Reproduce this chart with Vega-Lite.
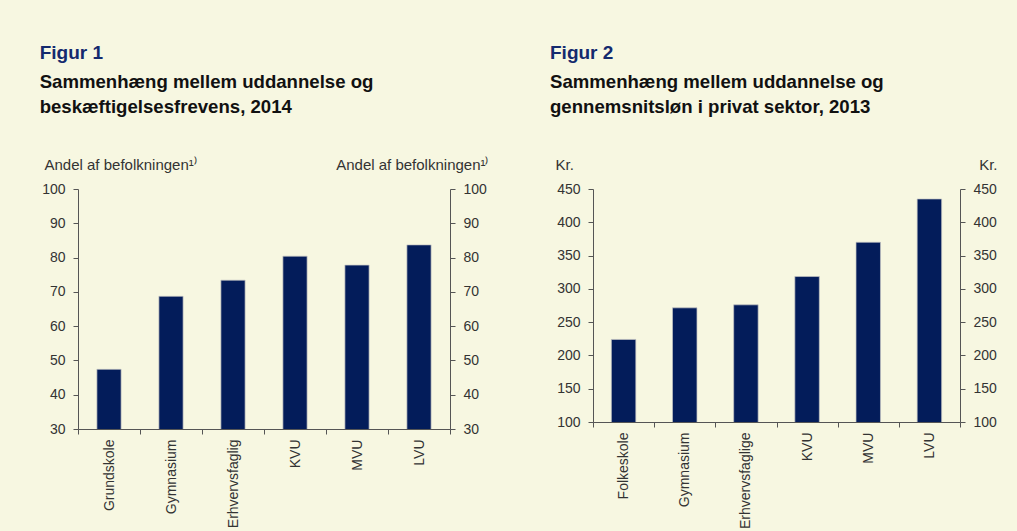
{
  "$schema": "https://vega.github.io/schema/vega-lite/v6.json",
  "background": "#F7F7E1",
  "padding": {"left": 39, "top": 44, "right": 24, "bottom": 4},
  "spacing": 62,
  "config": {
    "font": "Liberation Sans",
    "view": {"stroke": null},
    "axis": {
      "domainColor": "#555555",
      "tickColor": "#555555",
      "labelColor": "#333333",
      "titleColor": "#333333",
      "labelFont": "Liberation Sans",
      "titleFont": "Liberation Sans",
      "labelFontSize": 14,
      "titleFontSize": 15,
      "titleFontWeight": "normal",
      "grid": false,
      "tickSize": 5,
      "domainWidth": 1,
      "tickWidth": 1,
      "labelLimit": 300
    },
    "title": {"font": "Liberation Sans", "subtitleFont": "Liberation Sans"}
  },
  "hconcat": [
    {
      "width": 372,
      "height": 240,
      "title": {
        "text": "Figur 1",
        "subtitle": ["Sammenhæng mellem uddannelse og", "beskæftigelsesfrevens, 2014"],
        "anchor": "start",
        "frame": "bounds",
        "dx": -2,
        "color": "#142A6E",
        "fontSize": 19,
        "fontWeight": "bold",
        "subtitleColor": "#111111",
        "subtitleFontSize": 18.6,
        "subtitleFontWeight": "bold",
        "subtitleLineHeight": 25,
        "subtitlePadding": 10,
        "offset": 40
      },
      "data": {"values": [
        {"uddannelse": "Grundskole", "andel": 47.4},
        {"uddannelse": "Gymnasium", "andel": 68.7},
        {"uddannelse": "Erhvervsfaglig", "andel": 73.4},
        {"uddannelse": "KVU", "andel": 80.4},
        {"uddannelse": "MVU", "andel": 77.8},
        {"uddannelse": "LVU", "andel": 83.7}
      ]},
      "encoding": {
        "x": {
          "field": "uddannelse", "type": "nominal", "sort": null,
          "scale": {"paddingInner": 0, "paddingOuter": 0},
          "axis": {"title": null, "labelAngle": -90, "labelAlign": "right", "labelBaseline": "middle", "tickBand": "extent", "labelPadding": 5}
        }
      },
      "layer": [
        {
          "mark": {"type": "bar", "clip": true, "width": {"band": 0.39}, "color": "#031C5A", "stroke": "#C4C4C4", "strokeWidth": 0.7},
          "encoding": {
            "y": {
              "field": "andel", "type": "quantitative",
              "scale": {"domain": [30, 100], "nice": false, "zero": false},
              "axis": {"orient": "left", "values": [30, 40, 50, 60, 70, 80, 90, 100], "labelPadding": 8, "title": "Andel af befolkningen¹⁾", "titleAngle": 0, "titleAlign": "left", "titleBaseline": "alphabetic", "titleX": -34, "titleY": -20}
            }
          }
        },
        {
          "mark": {"type": "bar", "clip": true, "width": {"band": 0.39}, "opacity": 0},
          "encoding": {
            "y": {
              "field": "andel", "type": "quantitative",
              "axis": {"orient": "right", "values": [30, 40, 50, 60, 70, 80, 90, 100], "labelPadding": 8, "title": "Andel af befolkningen¹⁾", "titleAngle": 0, "titleAlign": "right", "titleBaseline": "alphabetic", "titleX": 38, "titleY": -20}
            }
          }
        }
      ],
      "resolve": {"axis": {"y": "independent"}}
    },
    {
      "width": 367,
      "height": 233,
      "title": {
        "text": "Figur 2",
        "subtitle": ["Sammenhæng mellem uddannelse og", "gennemsnitsløn i privat sektor, 2013"],
        "anchor": "start",
        "frame": "bounds",
        "dx": -5,
        "color": "#142A6E",
        "fontSize": 19,
        "fontWeight": "bold",
        "subtitleColor": "#111111",
        "subtitleFontSize": 18.6,
        "subtitleFontWeight": "bold",
        "subtitleLineHeight": 25,
        "subtitlePadding": 10,
        "offset": 40
      },
      "data": {"values": [
        {"uddannelse": "Folkeskole", "loen": 224},
        {"uddannelse": "Gymnasium", "loen": 271.5},
        {"uddannelse": "Erhvervsfaglige", "loen": 276},
        {"uddannelse": "KVU", "loen": 318.5},
        {"uddannelse": "MVU", "loen": 370},
        {"uddannelse": "LVU", "loen": 435}
      ]},
      "encoding": {
        "x": {
          "field": "uddannelse", "type": "nominal", "sort": null,
          "scale": {"paddingInner": 0, "paddingOuter": 0},
          "axis": {"title": null, "labelAngle": -90, "labelAlign": "right", "labelBaseline": "middle", "tickBand": "extent", "labelPadding": 5}
        }
      },
      "layer": [
        {
          "mark": {"type": "bar", "clip": true, "width": {"band": 0.4}, "color": "#031C5A", "stroke": "#C4C4C4", "strokeWidth": 0.7},
          "encoding": {
            "y": {
              "field": "loen", "type": "quantitative",
              "scale": {"domain": [100, 450], "nice": false, "zero": false},
              "axis": {"orient": "left", "values": [100, 150, 200, 250, 300, 350, 400, 450], "labelPadding": 8, "title": "Kr.", "titleAngle": 0, "titleAlign": "left", "titleBaseline": "alphabetic", "titleX": -38, "titleY": -20}
            }
          }
        },
        {
          "mark": {"type": "bar", "clip": true, "width": {"band": 0.4}, "opacity": 0},
          "encoding": {
            "y": {
              "field": "loen", "type": "quantitative",
              "axis": {"orient": "right", "values": [100, 150, 200, 250, 300, 350, 400, 450], "labelPadding": 8, "title": "Kr.", "titleAngle": 0, "titleAlign": "right", "titleBaseline": "alphabetic", "titleX": 37, "titleY": -20}
            }
          }
        }
      ],
      "resolve": {"axis": {"y": "independent"}}
    }
  ]
}
